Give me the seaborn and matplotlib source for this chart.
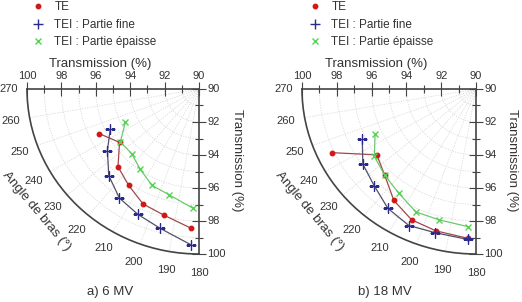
import numpy as np
import matplotlib
matplotlib.use("Agg")
import matplotlib.pyplot as plt
from matplotlib.lines import Line2D
import seaborn as sns

# Gantry angles (degrees) and transmission (%)
angles = [245, 235, 225, 215, 205, 195, 183]

te_6mv = [96.40, 95.64, 96.66, 97.13, 97.69, 97.91, 98.46]
fine_6mv = [95.69, 96.50, 97.42, 98.07, 98.39, 98.74, 99.44]
epaisse_6mv = [94.72, 95.58, 95.54, 95.95, 96.45, 96.65, 97.22]

te_18mv = [99.13, 96.96, 97.41, 98.24, 98.75, 98.90, 99.06]
fine_18mv = [97.21, 97.94, 98.28, 98.83, 99.13, 99.02, 99.13]
epaisse_18mv = [96.40, 97.13, 97.41, 97.72, 98.21, 98.21, 98.36]

series_labels = ["TE", "TEI : Partie fine", "TEI : Partie épaisse"]
angle_ticks = list(range(180, 271, 10))
trans_ticks = list(range(90, 101, 2))
trans_minor = list(range(91, 100, 2))

sns.set_theme(style="white")
plt.rcParams["font.family"] = ["Liberation Sans", "DejaVu Sans"]

TEXT = "#333333"
AXIS = "#444444"
STYLES = [
    dict(marker="o", markersize=3.2, mc="#d01818", lc="#a04848"),
    dict(marker="+", markersize=7, mc="#2a2a8c", lc="#50506a"),
    dict(marker="x", markersize=5, mc="#55d455", lc="#6cc86c"),
]

W, H = 522, 302


def px_rect(x0, y0, x1, y1):
    return [x0 / W, 1 - y1 / H, (x1 - x0) / W, (y1 - y0) / H]


def draw_panel(fig, rect, values, subtitle, legend_x, title_x, right_x, arc_label_xy, sub_x):
    ax = fig.add_axes(rect, projection="polar")
    ax.set_theta_zero_location("N")
    ax.set_theta_direction(-1)
    ax.set_thetamin(180)
    ax.set_thetamax(270)
    ax.set_rlim(90, 100)
    ax.set_aspect("auto")

    for vals, st in zip(values, STYLES):
        sns.lineplot(
            x=np.deg2rad(angles),
            y=vals,
            ax=ax,
            sort=False,
            estimator=None,
            color=st["lc"],
            linewidth=0.9,
            marker=st["marker"],
            markersize=st["markersize"],
            markerfacecolor=st["mc"],
            markeredgecolor=st["mc"],
            markeredgewidth=1.0,
        )

    ax.set_xticks(np.deg2rad(angle_ticks))
    ax.set_xticklabels([str(a) for a in angle_ticks])
    ax.set_yticks(trans_ticks)
    ax.set_yticklabels([str(t) for t in trans_ticks])
    ax.set_yticks(trans_minor, minor=True)
    ax.tick_params(axis="x", direction="inout", length=5, width=0.8, colors=AXIS,
                   labelcolor=TEXT, labelsize=8, pad=4)
    ax.tick_params(axis="y", which="both", direction="inout", length=5, width=0.8,
                   colors=AXIS, labelcolor=TEXT, labelsize=8,
                   left=True, right=True, labelleft=True, labelright=True)
    ax.tick_params(axis="y", which="minor", length=3)
    ax.grid(True, which="both", color="#dadada", linestyle=(0, (1.5, 1.5)), linewidth=0.6)
    for sp in ax.spines.values():
        sp.set_color(AXIS)
        sp.set_linewidth(1.2)
    ax.set_xlabel("")
    ax.set_ylabel("")

    # legend (markers only)
    handles = [Line2D([], [], linestyle="none", marker=st["marker"],
                      markersize=st["markersize"], color=st["mc"], markeredgewidth=1.0)
               for st in STYLES]
    fig.legend(handles, series_labels, loc="upper left",
               bbox_to_anchor=(legend_x / W, 1 - 1.5 / H), frameon=False,
               fontsize=8.5, handlelength=1.0, handletextpad=0.9,
               labelspacing=0.45, borderpad=0.0, borderaxespad=0.0,
               labelcolor=TEXT)

    fig.text(title_x / W, 1 - 64 / H, "Transmission (%)", ha="center", va="center",
             fontsize=9.5, color=TEXT)
    fig.text(right_x / W, 1 - 160 / H, "Transmission (%)", ha="center", va="center",
             rotation=-90, fontsize=9.5, color=TEXT)
    fig.text(arc_label_xy[0] / W, 1 - arc_label_xy[1] / H, "Angle de bras (°)",
             ha="center", va="center", rotation=-50, rotation_mode="anchor",
             fontsize=9.5, color=TEXT)
    fig.text(sub_x / W, 1 - 292 / H, subtitle, ha="center", va="center",
             fontsize=9.5, color=TEXT)
    return ax


fig = plt.figure(figsize=(W / 100, H / 100), dpi=100)

draw_panel(fig, px_rect(27, 89, 199, 254), [te_6mv, fine_6mv, epaisse_6mv],
           "a) 6 MV", legend_x=32, title_x=100, right_x=237,
           arc_label_xy=(36, 211), sub_x=110)
draw_panel(fig, px_rect(302, 89, 476, 254), [te_18mv, fine_18mv, epaisse_18mv],
           "b) 18 MV", legend_x=309, title_x=376, right_x=512,
           arc_label_xy=(309, 211), sub_x=385)

fig.savefig("out.png", dpi=100)
